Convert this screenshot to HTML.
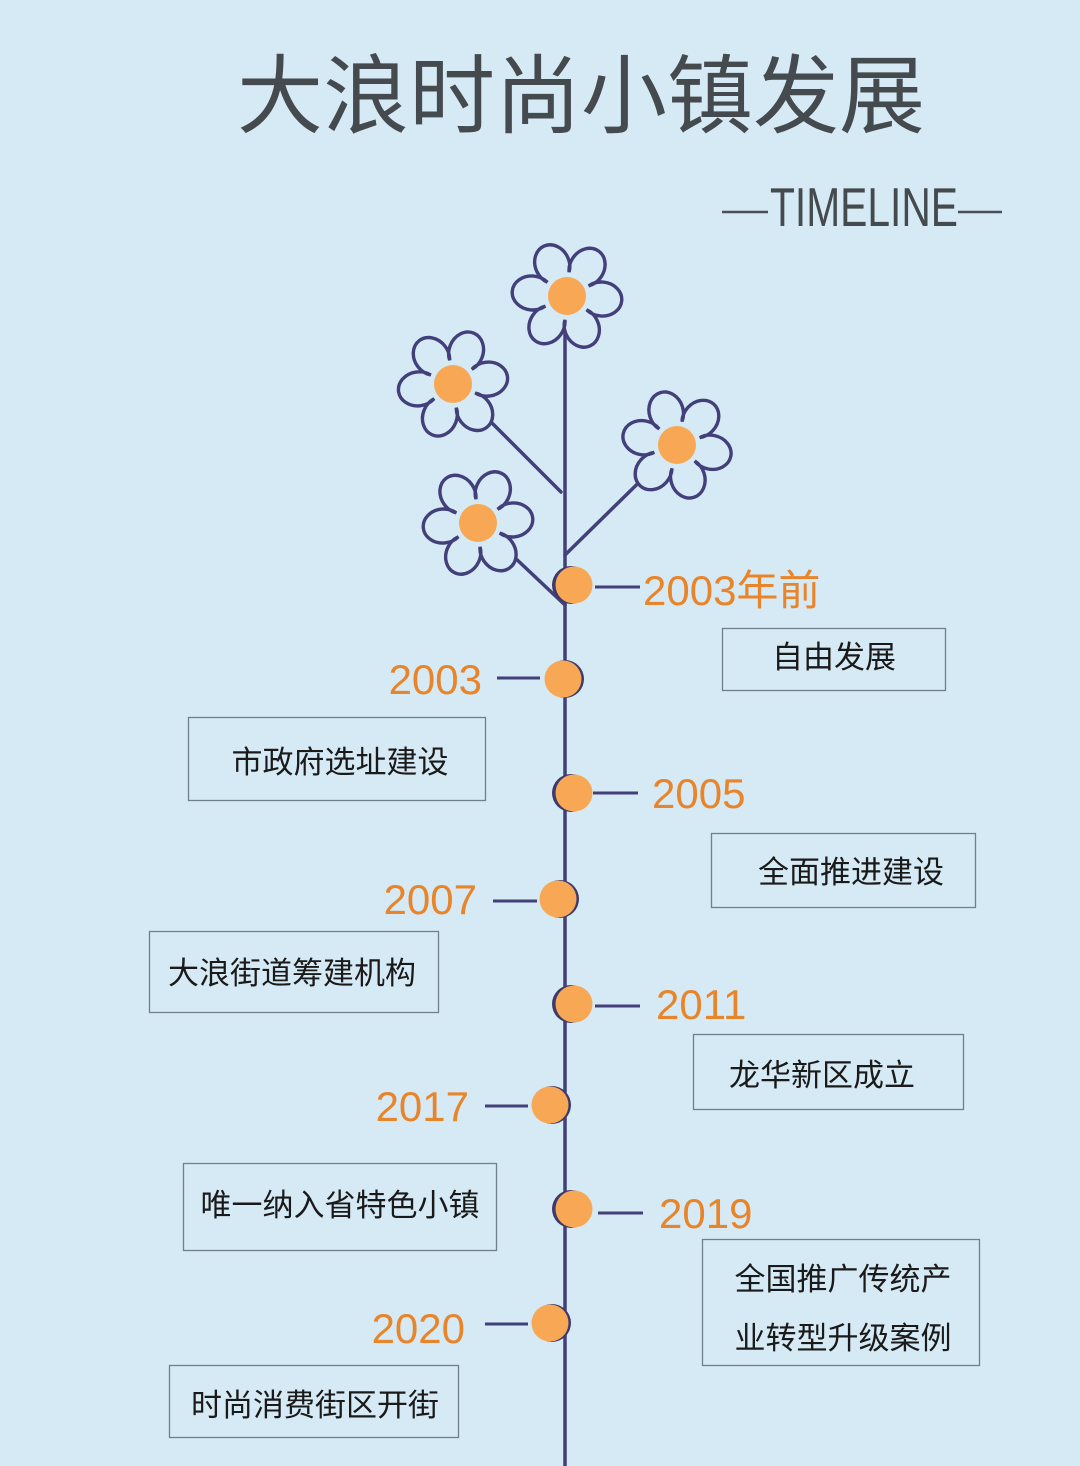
<!DOCTYPE html>
<html><head><meta charset="utf-8"><style>
html,body{margin:0;padding:0;background:#d6eaf5;}
svg{display:block;}
.cj{font-family:"Liberation Sans","Noto Sans CJK SC",sans-serif;}
</style></head><body>
<svg width="1080" height="1466" viewBox="0 0 1080 1466" xmlns="http://www.w3.org/2000/svg">
<rect width="1080" height="1466" fill="#d6eaf5"/>
<defs>
<path id="fl" d="M20.78,12 A17,20 150 1 1 0,24 A17,20 30 1 1 -20.78,12 A17,20 90 1 1 -20.78,-12 A17,20 150 1 1 0,-24 A17,20 30 1 1 20.78,-12 A17,20 90 1 1 20.78,12 Z" fill="#d6eaf5" stroke="#423f7a" stroke-width="3.4"/>
</defs>
<text x="581" y="126" text-anchor="middle" class="cj" font-size="86" fill="#444a4e">大浪时尚小镇发展</text>
<g stroke="#4a4f5a" stroke-width="2.5"><line x1="722" y1="212" x2="768" y2="212"/><line x1="958" y1="212" x2="1002" y2="212"/></g>
<text x="770" y="226" font-family="Liberation Sans" font-size="55" fill="#444a4e" textLength="188" lengthAdjust="spacingAndGlyphs">TIMELINE</text>
<g stroke="#423f7a" stroke-width="3.5" fill="none" stroke-linecap="round">
<line x1="565" y1="300" x2="565" y2="1466"/>
<line x1="565" y1="555" x2="677" y2="445"/>
<line x1="561" y1="492" x2="453" y2="384"/>
<line x1="565" y1="605" x2="478" y2="523"/>
</g>
<use href="#fl" transform="translate(567,296) rotate(5)"/>
<use href="#fl" transform="translate(453,384) rotate(-8)"/>
<use href="#fl" transform="translate(677,445) rotate(12)"/>
<use href="#fl" transform="translate(478,523) rotate(-5)"/>
<g fill="#f8a755"><circle cx="567" cy="296" r="19"/><circle cx="453" cy="384" r="19"/><circle cx="677" cy="445" r="19"/><circle cx="478" cy="523" r="19"/></g>
<g stroke="#423f7a" stroke-width="3">
<line x1="595" y1="587" x2="640" y2="587"/>
<line x1="497" y1="678" x2="540" y2="678"/>
<line x1="593" y1="793" x2="638" y2="793"/>
<line x1="493" y1="901" x2="537" y2="901"/>
<line x1="595" y1="1006" x2="640" y2="1006"/>
<line x1="485" y1="1106" x2="528" y2="1106"/>
<line x1="598" y1="1213" x2="643" y2="1213"/>
<line x1="485" y1="1324" x2="528" y2="1324"/>
</g>
<g fill="#3d3a6a">
<circle cx="571" cy="585" r="19"/><circle cx="565" cy="679" r="19"/><circle cx="571" cy="793" r="19"/><circle cx="560" cy="899" r="19"/><circle cx="571" cy="1004" r="19"/><circle cx="552" cy="1105" r="19"/><circle cx="571" cy="1209" r="19"/><circle cx="552" cy="1323" r="19"/>
</g>
<g fill="#f8a755">
<circle cx="574" cy="585" r="18.5"/><circle cx="563" cy="679" r="18.5"/><circle cx="574" cy="793" r="18.5"/><circle cx="558" cy="899" r="18.5"/><circle cx="574" cy="1004" r="18.5"/><circle cx="550" cy="1105" r="18.5"/><circle cx="574" cy="1209" r="18.5"/><circle cx="550" cy="1323" r="18.5"/>
</g>
<g class="cj" font-size="42" fill="#e8842a">
<text x="643" y="605">2003年前</text>
<text x="482" y="694" text-anchor="end">2003</text>
<text x="652" y="808">2005</text>
<text x="477" y="914" text-anchor="end">2007</text>
<text x="656" y="1019">2011</text>
<text x="469" y="1121" text-anchor="end">2017</text>
<text x="659" y="1228">2019</text>
<text x="465" y="1343" text-anchor="end">2020</text>
</g>
<g fill="none" stroke="#6f7f8e" stroke-width="1.3">
<rect x="722.5" y="628.5" width="223" height="62"/>
<rect x="188.5" y="717.5" width="297" height="83"/>
<rect x="711.5" y="833.5" width="264" height="74"/>
<rect x="149.5" y="931.5" width="289" height="81"/>
<rect x="693.5" y="1034.5" width="270" height="75"/>
<rect x="183.5" y="1163.5" width="313" height="87"/>
<rect x="702.5" y="1239.5" width="277" height="126"/>
<rect x="169.5" y="1365.5" width="289" height="72"/>
</g>
<g class="cj" font-size="31" fill="#1a1a1a">
<text x="834" y="668" text-anchor="middle">自由发展</text>
<text x="340" y="773" text-anchor="middle">市政府选址建设</text>
<text x="851" y="883" text-anchor="middle">全面推进建设</text>
<text x="292" y="984" text-anchor="middle">大浪街道筹建机构</text>
<text x="822" y="1086" text-anchor="middle">龙华新区成立</text>
<text x="340" y="1216" text-anchor="middle">唯一纳入省特色小镇</text>
<text x="843" y="1290" text-anchor="middle">全国推广传统产</text>
<text x="843" y="1349" text-anchor="middle">业转型升级案例</text>
<text x="315" y="1416" text-anchor="middle">时尚消费街区开街</text>
</g>
</svg>
</body></html>
